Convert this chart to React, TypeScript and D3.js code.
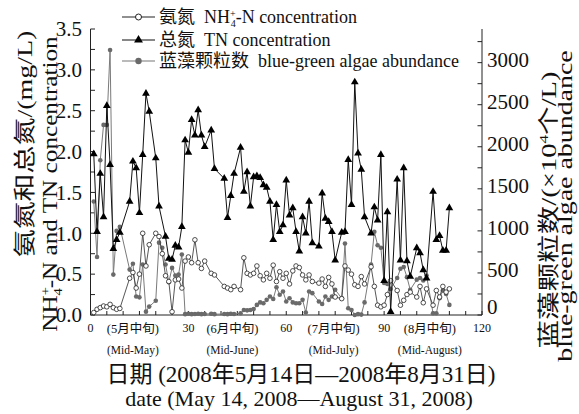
import * as d3 from "d3";

const tnDays = [1,2,3,4,5,6,7,8,9,12,13,14,15,16,17,18,20,21,23,24,25,26,27,28,29,30,31,32,33,34,35,37,38,41,42,43,44,46,47,48,49,50,51,52,53,54,55,56,57,58,59,60,61,62,63,64,65,66,67,68,70,71,72,73,74,75,77,78,79,80,81,82,83,84,86,87,88,89,90,91,92,94,95,96,97,98,100,101,102,103,105,106,107,108,109,110];
const tnValues = [
  1.97,1.02,1.73,1.2,2.56,1.84,0.81,0.92,1.01,
  1.39,1.88,1.8,1.25,1.96,2.71,2.49,
  1.92,1.33,
  0.96,0.69,0.68,0.85,0.83,1.08,2.14,1.99,2.39,2.2,2.51,2.2,2.06,
  2.26,1.79,
  1.67,1.19,1.46,1.73,
  2.05,1.51,1.75,1.33,1.69,1.7,1.68,1.59,1.56,1.39,0.92,1.35,1.02,1.1,1.65,1.22,1.31,1.02,0.78,1.2,1.0,1.39,0.88,
  0.84,1.49,1.18,1.14,1.02,0.67,
  1.01,1.02,1.9,1.35,2.85,1.98,1.78,1.2,
  1.0,1.32,1.16,1.96,0.42,1.26,0.04,
  1.66,0.67,1.8,0.66,0.47,
  0.82,0.76,0.55,0.45,
  1.51,0.92,0.97,0.79,0.79,1.31,
];

const nh4Days = [1,2,3,4,5,6,7,8,9,12,13,14,15,16,17,18,20,21,22,23,24,25,26,27,28,29,30,31,32,33,34,35,37,38,41,42,43,44,46,47,48,49,50,51,52,53,54,55,56,57,58,59,60,61,62,63,64,65,66,67,68,70,71,72,73,74,75,77,78,79,80,81,82,83,84,86,87,88,89,90,91,92,94,95,96,97,98,100,101,102,103,105,106,107,108,109,110];
const nh4Values = [
  0.03,0.07,0.09,0.11,0.1,0.13,0.09,0.07,0.08,
  0.45,0.52,0.33,0.5,1.0,0.6,0.86,
  1.0,0.96,0.75,0.48,0.41,0.04,0.43,0.44,0.33,
  0.66,0.71,0.64,0.92,0.64,0.57,0.66,
  0.51,0.49,
  0.35,0.33,0.31,0.35,
  0.31,0.7,0.51,0.49,0.51,0.6,0.48,0.43,0.51,0.45,0.61,0.41,0.53,0.45,0.51,0.38,0.54,0.6,0.58,0.49,0.43,0.49,0.41,
  0.39,0.44,0.35,0.46,0.38,0.22,
  0.2,0.6,0.55,0.5,0.37,0.35,0.47,0.38,
  0.59,0.35,0.12,0.1,0.12,0.25,0.42,
  0.3,0.12,0.18,0.25,0.28,
  0.22,0.35,0.15,0.32,
  0.12,0.3,0.22,0.35,0.28,0.32,
];

const algaeDays = nh4Days;
const algaeValues = [
  1350,690,1840,2260,2260,3150,480,1000,1050,
  540,610,220,210,600,40,100,
  170,860,800,600,390,560,470,480,720,
  10,15,10,12,15,10,12,
  15,10,
  12,10,15,12,
  20,60,55,60,70,120,150,140,180,220,190,330,240,280,160,200,150,140,140,180,30,280,260,
  160,130,220,180,220,300,
  200,850,80,60,0,10,5,150,
  600,990,830,800,380,370,310,
  440,550,570,450,300,
  420,440,410,470,
  20,20,200,290,250,120,
];

const leftTicks = ["0.0","0.5","1.0","1.5","2.0","2.5","3.0","3.5"];
const rightTicks = [0,500,1000,1500,2000,2500,3000];
const xTicks = [0,30,60,90,120];
const periodLabels = [
  { day: 13, zh: "(5月中旬)", en: "(Mid-May)" },
  { day: 43.5, zh: "(6月中旬)", en: "(Mid-June)" },
  { day: 74.5, zh: "(7月中旬)", en: "(Mid-July)" },
  { day: 104, zh: "(8月中旬)", en: "(Mid-August)" },
];

const serif = "'Liberation Serif', 'Noto Sans CJK SC', serif";

export default function App() {
  const x = d3.scaleLinear().domain([0, 120]).range([90.5, 482]);
  const yL = d3.scaleLinear().domain([0, 3.5]).range([315, 29]);
  const yR = d3.scaleLinear().domain([0, 3400]).range([315, 29]);

  const tn = tnDays.map((d, i) => [x(d), yL(tnValues[i])] as [number, number]);
  const nh4 = nh4Days.map((d, i) => [x(d), yL(nh4Values[i])] as [number, number]);
  const algae = algaeDays.map((d, i) => [x(d), yR(algaeValues[i])] as [number, number]);
  const line = d3.line();
  const tri = d3.symbol(d3.symbolTriangle, 26)();
  const triBig = d3.symbol(d3.symbolTriangle, 34)();

  const minorL = d3.range(0, 3.51, 0.25);
  const minorR = d3.range(0, 3401, 250);
  const minorX = d3.range(0, 121, 5);

  return (
    <svg width={579} height={414} style={{ position: "absolute", left: 0, top: 0, background: "#fff" }} fontFamily={serif}>
      {/* axes */}
      <g stroke="#222" strokeWidth={1} fill="none">
        <line x1={90.5} x2={90.5} y1={29} y2={315} />
        <line x1={482} x2={482} y1={29} y2={315} />
        <line x1={90.5} x2={482} y1={315} y2={315} />
        {minorL.map((v) => (
          <line key={"l" + v} x1={90.5} x2={95} y1={yL(v)} y2={yL(v)} />
        ))}
        {minorR.map((v) => (
          <line key={"r" + v} x1={477.5} x2={482} y1={yR(v)} y2={yR(v)} />
        ))}
        {minorX.map((v) => (
          <line key={"x" + v} x1={x(v)} x2={x(v)} y1={315} y2={311} />
        ))}
      </g>

      {leftTicks.map((t) => (
        <text key={t} x={82} y={yL(+t)} dy="0.35em" textAnchor="end" fontSize={21} fill="#111">{t}</text>
      ))}
      {rightTicks.map((t) => (
        <text key={t} x={487} y={yR(t) - (t === 0 ? 8 : 3)} dy="0.35em" fontSize={21} fill="#111">{t}</text>
      ))}
      {xTicks.map((t) => (
        <text key={t} x={x(t)} y={332} textAnchor="middle" fontSize={12} fill="#111">{t}</text>
      ))}
      {periodLabels.map((p) => (
        <g key={p.en} fill="#111" textAnchor="middle">
          <text x={x(p.day)} y={333} fontSize={12.5}>{p.zh}</text>
          <text x={x(p.day)} y={354} fontSize={11.5}>{p.en}</text>
        </g>
      ))}

      {/* axis titles */}
      <text x={301} y={382} textAnchor="middle" fontSize={23} fill="#111">日期 (2008年5月14日—2008年8月31日)</text>
      <text x={299} y={406} textAnchor="middle" fontSize={22} fill="#111">date (May 14, 2008—August 31, 2008)</text>

      <text transform="translate(32,144) rotate(-90) scale(1.3,1)" textAnchor="middle" fontSize={21.5} fill="#111">氨氮和总氮/(mg/L)</text>
      <text transform="translate(57,184) rotate(-90) scale(1.2,1)" textAnchor="middle" fontSize={21} fill="#111">
        NH<tspan dy={-7} fontSize={12}>+</tspan><tspan dx={-7} dy={12} fontSize={12}>4</tspan><tspan dy={-5}>-N and TN concentration</tspan>
      </text>

      <text transform="translate(556,210) rotate(-90) scale(1.33,1)" textAnchor="middle" fontSize={21.5} fill="#111">
        蓝藻颗粒数/(×10<tspan dy={-8} fontSize={13}>4</tspan><tspan dy={8}>个/L)</tspan>
      </text>
      <text transform="translate(572,206) rotate(-90) scale(1.33,1)" textAnchor="middle" fontSize={21} fill="#111">blue-green algae abundance</text>

      {/* series */}
      <path d={line(algae) ?? ""} fill="none" stroke="#7a7a7a" strokeWidth={1} />
      {algae.map(([px, py], i) => (
        <circle key={"a" + i} cx={px} cy={py} r={2.3} fill="#6a6a6a" />
      ))}
      <path d={line(nh4) ?? ""} fill="none" stroke="#444" strokeWidth={0.9} />
      {nh4.map(([px, py], i) => (
        <circle key={"n" + i} cx={px} cy={py} r={2.3} fill="#fff" stroke="#222" strokeWidth={0.8} />
      ))}
      <path d={line(tn) ?? ""} fill="none" stroke="#111" strokeWidth={1} />
      {tn.map(([px, py], i) => (
        <path key={"t" + i} d={tri ?? ""} transform={`translate(${px},${py})`} fill="#000" />
      ))}

      {/* legend */}
      <g fill="#111" fontSize={18}>
        <line x1={122} x2={155} y1={17} y2={17} stroke="#222" strokeWidth={1.2} />
        <circle cx={138.5} cy={17} r={3} fill="#fff" stroke="#222" strokeWidth={1} />
        <text x={159} y={17} dy="0.35em" xmlSpace="preserve">
          氨氮  NH<tspan dy={-6} fontSize={10}>+</tspan><tspan dx={-5} dy={10} fontSize={10}>4</tspan><tspan dy={-4}>-N concentration</tspan>
        </text>

        <line x1={122} x2={155} y1={40} y2={40} stroke="#111" strokeWidth={1.2} />
        <path d={triBig ?? ""} transform="translate(138.5,40)" fill="#000" />
        <text x={159} y={40} dy="0.35em" xmlSpace="preserve">总氮  TN concentration</text>

        <line x1={122} x2={155} y1={61} y2={61} stroke="#777" strokeWidth={1.2} />
        <circle cx={138.5} cy={61} r={3.2} fill="#6a6a6a" />
        <text x={159} y={61} dy="0.35em" xmlSpace="preserve">蓝藻颗粒数  blue-green algae abundance</text>
      </g>
    </svg>
  );
}
